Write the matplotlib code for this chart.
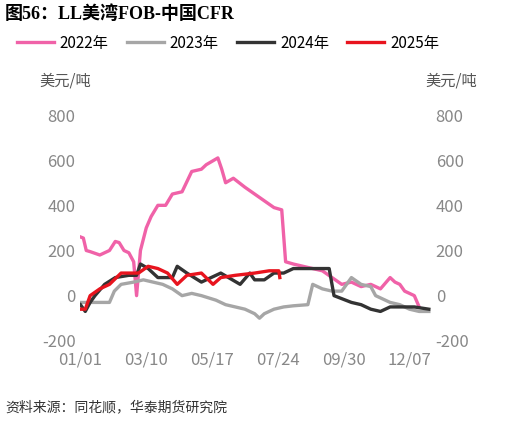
import matplotlib.pyplot as plt
import numpy as np

plt.rcParams['font.family'] = ['Noto Sans CJK SC', 'DejaVu Sans']
plt.rcParams['axes.unicode_minus'] = False

# day of year -> value (USD/t)
d2022 = [0, 3, 6, 10, 20, 30, 36, 40, 45, 50, 55, 58, 62, 68, 73, 80, 88, 95, 105, 115, 125, 130, 138, 142, 146, 150, 158, 170, 180, 190, 200, 208, 212, 220, 230, 240, 250, 260, 270, 280, 290, 300, 310, 320, 325, 330, 335, 345, 350]
v2022 = [260, 255, 200, 195, 180, 200, 240, 235, 200, 190, 150, 0, 200, 300, 350, 400, 400, 450, 460, 550, 560, 580, 600, 610, 560, 500, 520, 480, 450, 420, 390, 380, 150, 140, 130, 120, 110, 80, 50, 60, 40, 50, 30, 80, 60, 50, 20, 0, -50]
d2023 = [0, 10, 20, 30, 35, 42, 55, 65, 75, 85, 95, 105, 115, 125, 140, 150, 160, 170, 180, 185, 190, 200, 210, 220, 235, 240, 250, 260, 270, 280, 290, 300, 305, 315, 320, 330, 340, 350, 360]
v2023 = [-30, -30, -30, -30, 20, 50, 60, 70, 60, 50, 30, 0, 10, 0, -20, -40, -50, -60, -80, -100, -80, -60, -50, -45, -40, 50, 30, 20, 20, 80, 50, 40, 0, -20, -30, -40, -60, -70, -70]
d2024 = [0, 5, 10, 15, 25, 36, 50, 58, 62, 70, 80, 95, 100, 110, 125, 145, 165, 175, 180, 190, 200, 210, 220, 235, 250, 257, 262, 280, 290, 300, 310, 320, 330, 345, 360]
v2024 = [-40, -70, -30, 0, 50, 80, 90, 90, 140, 120, 80, 80, 130, 100, 60, 100, 50, 100, 70, 70, 100, 100, 120, 120, 120, 120, 0, -30, -40, -60, -70, -50, -50, -50, -60]
d2025 = [0, 5, 10, 20, 30, 42, 60, 70, 80, 90, 100, 110, 125, 137, 145, 160, 180, 195, 205, 206]
v2025 = [-60, -60, 0, 30, 50, 100, 100, 130, 120, 100, 50, 90, 100, 50, 80, 90, 100, 110, 110, 80]

tick_days = [0, 68, 136, 204, 272, 340]
tick_labels = ['01/01', '03/10', '05/17', '07/24', '09/30', '12/07']

fig = plt.figure(figsize=(5.19, 4.26), dpi=100)
ax = fig.add_axes([0.155, 0.2, 0.675, 0.53])
ax.plot(d2022, v2022, color='#f062a8', lw=2.4, label='2022年')
ax.plot(d2023, v2023, color='#a6a6a6', lw=2.4, label='2023年')
ax.plot(d2024, v2024, color='#333333', lw=2.4, label='2024年')
ax.plot(d2025, v2025, color='#e8141e', lw=2.4, label='2025年')
ax.set_xlim(0, 362)
ax.set_ylim(-200, 800)
ax.set_yticks(range(-200, 801, 200))
ax.set_xticks(tick_days)
ax.set_xticklabels(tick_labels)
ax2 = ax.twinx()
ax2.set_ylim(-200, 800)
ax2.set_yticks(range(-200, 801, 200))
for a in (ax, ax2):
    for s in a.spines.values():
        s.set_visible(False)
    a.tick_params(length=0, labelsize=12, colors='#888888')
ax.tick_params(axis='x', pad=8)

fig.text(0.01, 0.955, '图56：LL美湾FOB-中国CFR', fontsize=13, fontweight='bold',
         family=['Liberation Serif', 'Noto Sans CJK SC'])
ax.legend(loc='lower left', bbox_to_anchor=(-0.22, 1.22), ncol=4, frameon=False,
          fontsize=11, handlelength=2.4, columnspacing=1.2, handletextpad=0.4)
fig.text(0.075, 0.8, '美元/吨', fontsize=11, color='#555555')
fig.text(0.82, 0.8, '美元/吨', fontsize=11, color='#555555')
fig.text(0.01, 0.035, '资料来源：同花顺，华泰期货研究院', fontsize=10, style='italic', color='#333333')
fig.savefig('out.png')
